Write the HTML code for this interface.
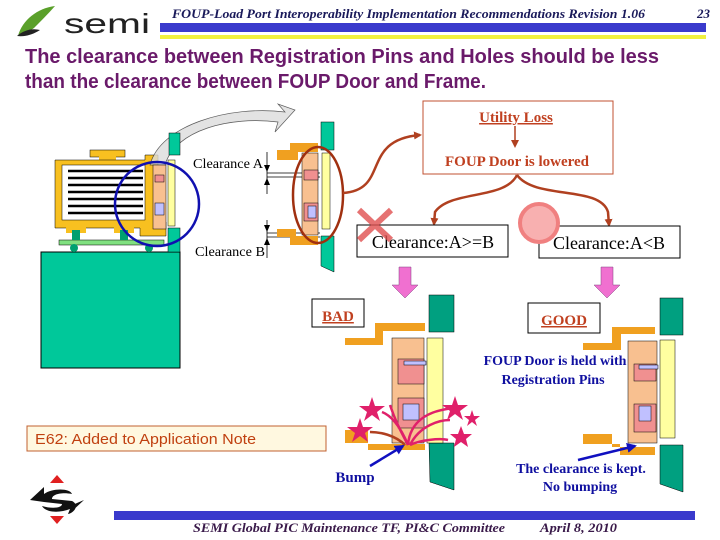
<!DOCTYPE html>
<html><head><meta charset="utf-8"><style>
html,body{margin:0;padding:0;background:#fff;width:720px;height:540px;overflow:hidden}
svg{display:block}
.s{font-family:"Liberation Serif",serif}
.a{font-family:"Liberation Sans",sans-serif}
</style></head><body>
<svg width="720" height="540" viewBox="0 0 720 540" xmlns="http://www.w3.org/2000/svg">
<defs>
<marker id="br" markerWidth="8" markerHeight="8" refX="6" refY="4" orient="auto" markerUnits="userSpaceOnUse"><path d="M0,0 L8,4 L0,8 Z" fill="#b04020"/></marker>
<marker id="bl" markerWidth="10" markerHeight="10" refX="8" refY="5" orient="auto" markerUnits="userSpaceOnUse"><path d="M0,0 L10,5 L0,10 Z" fill="#1010c0"/></marker>
</defs>
<!-- header -->
<path d="M18,36 C22,20 38,8 55,6 C48,14 40,22 34,28 C30,31 24,34 18,36 Z" fill="#5aa02a"/>
<path d="M17,36 C24,30 32,28 40,30 C34,34 26,37 17,36 Z" fill="#222"/>
<text x="64" y="33" class="a" font-size="28" fill="#222" textLength="86" lengthAdjust="spacingAndGlyphs">semi</text>
<text x="172" y="18" class="s" font-size="13" font-style="italic" font-weight="bold" fill="#1a1a5a" textLength="473" lengthAdjust="spacingAndGlyphs">FOUP-Load Port Interoperability Implementation Recommendations Revision 1.06</text>
<text x="697" y="18" class="s" font-size="13" font-style="italic" font-weight="bold" fill="#1a1a5a">23</text>
<rect x="160" y="23" width="546" height="9" fill="#3a3acc"/>
<rect x="160" y="35" width="546" height="4" fill="#f0f040"/>
<text x="25" y="63" class="a" font-size="20" font-weight="bold" fill="#6a1a6a" textLength="634" lengthAdjust="spacingAndGlyphs">The clearance between Registration Pins and Holes should be less</text>
<text x="25" y="88" class="a" font-size="20" font-weight="bold" fill="#6a1a6a" textLength="461" lengthAdjust="spacingAndGlyphs">than the clearance between FOUP Door and Frame.</text>

<!-- left FOUP on load port -->
<rect x="41" y="252" width="139" height="116" fill="#00c89a" stroke="#000" stroke-width="1"/>
<rect x="59" y="240" width="105" height="5" fill="#80e080" stroke="#000" stroke-width=".5"/>
<circle cx="74" cy="248" r="4" fill="#00a070"/><circle cx="149" cy="248" r="4" fill="#00a070"/>
<rect x="90" y="150" width="35" height="7" fill="#f8c020" stroke="#000" stroke-width=".5"/>
<rect x="99" y="156" width="17" height="5" fill="#f8c020"/>
<path d="M55,160 H145 V155 H158 V222 H166 V236 H140 V228 H55 Z" fill="#f8c020" stroke="#000" stroke-width=".5"/>
<rect x="62" y="165" width="83" height="55" fill="#fff" stroke="#000" stroke-width=".5"/>
<g stroke="#000" stroke-width="2.5">
<line x1="68" y1="171" x2="143" y2="171"/><line x1="68" y1="178" x2="143" y2="178"/><line x1="68" y1="185" x2="143" y2="185"/><line x1="68" y1="192" x2="143" y2="192"/><line x1="68" y1="199" x2="143" y2="199"/><line x1="68" y1="206" x2="143" y2="206"/><line x1="68" y1="213" x2="143" y2="213"/></g>
<rect x="66" y="225" width="20" height="8" fill="#f8c020"/><rect x="114" y="225" width="20" height="8" fill="#f8c020"/>
<rect x="72" y="230" width="8" height="10" fill="#00a070"/><rect x="120" y="230" width="8" height="10" fill="#00a070"/>
<path d="M150,165 C160,125 230,105 285,112 L278,104 L295,110 L275,132 L278,122 C230,116 175,130 165,165 Z" fill="#ddd" stroke="#333" stroke-width=".7" opacity=".8"/>
<rect x="169" y="133" width="11" height="22" fill="#00c89a" stroke="#000" stroke-width=".5"/>
<rect x="168" y="228" width="12" height="24" fill="#00c89a" stroke="#000" stroke-width=".5"/>
<rect x="168" y="160" width="7" height="66" fill="#ffffa0" stroke="#000" stroke-width=".5"/>
<rect x="153" y="165" width="13" height="64" fill="#f8c090" stroke="#000" stroke-width=".5"/>
<rect x="155" y="175" width="9" height="7" fill="#f09090" stroke="#000" stroke-width=".5"/>
<rect x="155" y="203" width="9" height="12" fill="#c0c0ff" stroke="#000" stroke-width=".5"/>
<circle cx="157" cy="204" r="42" fill="none" stroke="#1010b0" stroke-width="2.5"/>

<!-- middle detail -->
<text x="193" y="168" class="s" font-size="13.5" textLength="70" lengthAdjust="spacingAndGlyphs">Clearance A</text>
<text x="195" y="256" class="s" font-size="13.5" textLength="70" lengthAdjust="spacingAndGlyphs">Clearance B</text>
<g stroke="#000" stroke-width=".8">
<line x1="267" y1="152" x2="267" y2="194"/><line x1="267" y1="220" x2="267" y2="258"/>
<line x1="267" y1="173" x2="320" y2="173"/><line x1="267" y1="177" x2="320" y2="177"/>
<line x1="267" y1="233" x2="320" y2="233"/><line x1="267" y1="237" x2="320" y2="237"/></g>
<path d="M264,165 L267,172 L270,165 Z M264,185 L267,178 L270,185 Z M264,225 L267,232 L270,225 Z M264,245 L267,238 L270,245 Z"/>
<rect x="321" y="122" width="13" height="28" fill="#00c89a" stroke="#000" stroke-width=".5"/>
<path d="M321,236 H334 V272 L321,266 Z" fill="#00c89a" stroke="#000" stroke-width=".5"/>
<rect x="322" y="153" width="8" height="76" fill="#ffffa0" stroke="#000" stroke-width=".5"/>
<path d="M277,150 H290 V143 H318 V152 H298 V160 H277 Z" fill="#f0a020"/>
<path d="M277,229 H296 V236 H318 V245 H290 V237 H277 Z" fill="#f0a020"/>
<rect x="302" y="153" width="16" height="82" fill="#f8c090" stroke="#000" stroke-width=".5"/>
<rect x="304" y="170" width="14" height="10" fill="#f09090" stroke="#000" stroke-width=".5"/>
<rect x="304" y="203" width="14" height="18" fill="#f09090" stroke="#000" stroke-width=".5"/>
<rect x="308" y="206" width="8" height="12" fill="#c0c0ff" stroke="#000" stroke-width=".5"/>
<ellipse cx="318" cy="195" rx="25" ry="48" fill="none" stroke="#a03010" stroke-width="2.5"/>

<!-- utility -->
<path d="M343,193 C390,190 360,140 420,135" fill="none" stroke="#b04020" stroke-width="2.5" marker-end="url(#br)"/>
<rect x="423" y="101" width="190" height="73" fill="#fff" stroke="#c05030" stroke-width="1"/>
<text x="516" y="122" class="s" font-size="15" font-weight="bold" fill="#c04020" text-anchor="middle" text-decoration="underline">Utility Loss</text>
<line x1="515" y1="126" x2="515" y2="146" stroke="#b04020" stroke-width="1.5" marker-end="url(#br)"/>
<text x="517" y="166" class="s" font-size="15" font-weight="bold" fill="#c04020" text-anchor="middle">FOUP Door is lowered</text>
<path d="M517,175 C505,200 450,190 435,212 L434,224" fill="none" stroke="#b04020" stroke-width="2.5" marker-end="url(#br)"/>
<path d="M517,175 C535,200 600,185 608,212 L609,225" fill="none" stroke="#b04020" stroke-width="2.5" marker-end="url(#br)"/>
<rect x="357" y="225" width="151" height="32" fill="#fff" stroke="#000" stroke-width="1"/>
<text x="433" y="248" class="s" font-size="18" text-anchor="middle">Clearance:A&gt;=B</text>
<rect x="539" y="226" width="141" height="32" fill="#fff" stroke="#000" stroke-width="1"/>
<text x="609" y="249" class="s" font-size="18" text-anchor="middle">Clearance:A&lt;B</text>
<g stroke="#e05050" stroke-width="6" opacity=".8"><line x1="359" y1="210" x2="391" y2="240"/><line x1="391" y1="210" x2="359" y2="240"/></g>
<circle cx="539" cy="223" r="19" fill="#f8b0b0" stroke="#f08080" stroke-width="4"/>
<path d="M399,267 H411 V285 H418 L405,298 L392,285 H399 Z" fill="#f070d0" stroke="#804080" stroke-width=".5"/>
<path d="M601,267 H613 V285 H620 L607,298 L594,285 H601 Z" fill="#f070d0" stroke="#804080" stroke-width=".5"/>

<!-- BAD -->
<rect x="312" y="299" width="52" height="28" fill="#fff" stroke="#000" stroke-width="1"/>
<text x="338" y="321" class="s" font-size="15" font-weight="bold" fill="#c04020" text-anchor="middle" text-decoration="underline">BAD</text>
<rect x="429" y="295" width="25" height="37" fill="#00a080" stroke="#000" stroke-width=".5"/>
<path d="M429,443 H454 V490 L430,482 Z" fill="#00a080" stroke="#000" stroke-width=".5"/>
<path d="M345,338 H375 V323 H425 V331 H383 V345 H345 Z" fill="#f0a020"/>
<path d="M345,430 H368 V444 H425 V450 H368 V443 H345 Z" fill="#f0a020"/>
<rect x="392" y="338" width="32" height="105" fill="#f8c090" stroke="#000" stroke-width=".5"/>
<rect x="427" y="338" width="16" height="105" fill="#ffffa0" stroke="#000" stroke-width=".5"/>
<rect x="398" y="359" width="26" height="25" fill="#f09090" stroke="#000" stroke-width=".5"/>
<rect x="404" y="361" width="22" height="4" fill="#c0c0ff" stroke="#000" stroke-width=".5"/>
<rect x="398" y="398" width="26" height="30" fill="#f09090" stroke="#000" stroke-width=".5"/>
<rect x="403" y="404" width="16" height="16" fill="#c0c0ff" stroke="#000" stroke-width=".5"/>
<g fill="none" stroke="#e0206a" stroke-width="2.5">
<path d="M408,445 C400,425 390,415 382,412"/><path d="M408,445 C410,420 430,410 455,408"/><path d="M410,445 C420,425 440,420 450,420"/><path d="M408,445 C400,430 395,420 390,405"/><path d="M410,445 C420,440 440,438 448,440"/><path d="M405,445 C395,435 380,432 370,432" stroke="#b04020"/></g>
<g fill="#e0206a">
<polygon points="372,397 375,406 385,406 377,412 380,421 372,415 364,421 367,412 359,406 369,406"/>
<polygon points="360,418 363,427 373,427 365,433 368,442 360,436 352,442 355,433 347,427 357,427"/>
<polygon points="455,396 458,405 468,405 460,411 463,420 455,414 447,420 450,411 442,405 452,405"/>
<polygon points="472,410 474,416 480,416 475,420 477,426 472,422 467,426 469,420 464,416 470,416"/>
<polygon points="461,426 464,434 472,434 466,439 468,447 461,442 454,447 456,439 450,434 458,434"/></g>
<line x1="370" y1="466" x2="403" y2="446" stroke="#1010c0" stroke-width="2.5" marker-end="url(#bl)"/>
<text x="355" y="482" class="s" font-size="15" font-weight="bold" fill="#1010a0" text-anchor="middle">Bump</text>

<!-- GOOD -->
<rect x="528" y="303" width="72" height="30" fill="#fff" stroke="#000" stroke-width="1"/>
<text x="564" y="325" class="s" font-size="15" font-weight="bold" fill="#c04020" text-anchor="middle" text-decoration="underline">GOOD</text>
<rect x="660" y="298" width="23" height="37" fill="#00a080" stroke="#000" stroke-width=".5"/>
<path d="M660,445 H683 V492 L660,484 Z" fill="#00a080" stroke="#000" stroke-width=".5"/>
<path d="M583,343 H612 V327 H655 V334 H621 V350 H583 Z" fill="#f0a020"/>
<path d="M583,434 H612 V447 H655 V455 H620 V444 H583 Z" fill="#f0a020"/>
<rect x="628" y="341" width="29" height="102" fill="#f8c090" stroke="#000" stroke-width=".5"/>
<rect x="660" y="340" width="15" height="98" fill="#ffffa0" stroke="#000" stroke-width=".5"/>
<rect x="634" y="364" width="22" height="17" fill="#f09090" stroke="#000" stroke-width=".5"/>
<rect x="639" y="365" width="19" height="4" fill="#c0c0ff" stroke="#000" stroke-width=".5"/>
<rect x="634" y="404" width="22" height="28" fill="#f09090" stroke="#000" stroke-width=".5"/>
<rect x="639" y="406" width="12" height="15" fill="#c0c0ff" stroke="#000" stroke-width=".5"/>
<text x="555" y="365" class="s" font-size="14" font-weight="bold" fill="#1010a0" text-anchor="middle">FOUP Door is held with</text>
<text x="553" y="384" class="s" font-size="14" font-weight="bold" fill="#1010a0" text-anchor="middle">Registration Pins</text>
<line x1="578" y1="460" x2="635" y2="446" stroke="#1010c0" stroke-width="2.5" marker-end="url(#bl)"/>
<text x="581" y="473" class="s" font-size="14" font-weight="bold" fill="#1010a0" text-anchor="middle">The clearance is kept.</text>
<text x="580" y="491" class="s" font-size="14" font-weight="bold" fill="#1010a0" text-anchor="middle">No bumping</text>

<!-- E62 -->
<rect x="27" y="426" width="299" height="25" fill="#fff8e0" stroke="#c06030" stroke-width="1"/>
<text x="35" y="444" class="a" font-size="14.5" fill="#c04010" textLength="221" lengthAdjust="spacingAndGlyphs">E62: Added to Application Note</text>

<!-- footer -->
<polygon points="57,475 64,483 50,483" fill="#e02020"/>
<polygon points="57,524 64,516 50,516" fill="#e02020"/>
<path d="M30,500 L44,487 L44,494 C52,488 70,488 72,494 C62,492 52,494 52,499 L72,501 C80,505 74,513 68,514 L70,509 C60,513 46,513 42,506 C52,509 62,508 62,504 L44,502 Z" fill="#111"/>
<path d="M84,500 L70,513 L70,506 Z" fill="#111"/>
<rect x="114" y="511" width="581" height="9" fill="#3a3acc"/>
<text x="193" y="532" class="s" font-size="13" font-style="italic" font-weight="bold" fill="#3a1a4a" textLength="312" lengthAdjust="spacingAndGlyphs">SEMI Global PIC Maintenance TF, PI&amp;C Committee</text>
<text x="540" y="532" class="s" font-size="13" font-style="italic" font-weight="bold" fill="#3a1a4a" textLength="77" lengthAdjust="spacingAndGlyphs">April 8, 2010</text>
</svg>
</body></html>
